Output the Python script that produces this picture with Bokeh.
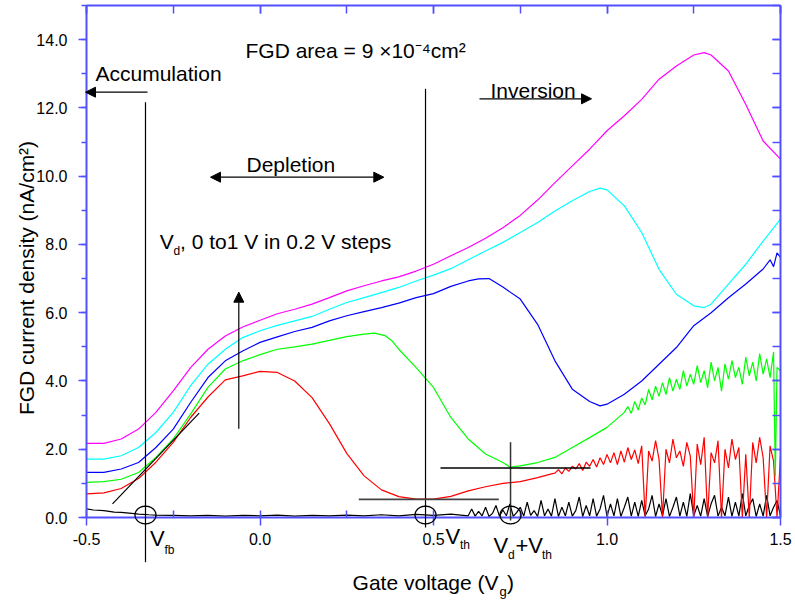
from math import pi
import numpy as np
from bokeh.plotting import figure
from bokeh.models import (LinearAxis, SingleIntervalTicker, NumeralTickFormatter, Label,
                          Arrow, NormalHead, PolyAnnotation, Range1d, CustomJSTickFormatter)
from bokeh.embed import file_html
from bokeh.resources import INLINE

# ---------------- data ----------------
vg_mag = [-0.5, -0.45, -0.4, -0.35, -0.3, -0.25, -0.2, -0.15, -0.1, -0.05, 0.0, 0.05, 0.1, 0.15, 0.2,
          0.25, 0.3, 0.35, 0.4, 0.45, 0.5, 0.55, 0.6, 0.65, 0.7, 0.75, 0.8, 0.85, 0.9, 0.95, 1.0,
          1.05, 1.1, 1.15, 1.2, 1.25, 1.28, 1.3, 1.35, 1.4, 1.45, 1.5]
j_mag = [2.17, 2.17, 2.30, 2.59, 3.08, 3.71, 4.39, 4.93, 5.32, 5.58, 5.78, 5.97, 6.10, 6.25, 6.44,
         6.64, 6.79, 6.93, 7.05, 7.22, 7.42, 7.67, 7.91, 8.18, 8.49, 8.85, 9.30, 9.81, 10.30, 10.79, 11.33,
         11.77, 12.25, 12.84, 13.23, 13.55, 13.62, 13.55, 13.08, 12.10, 11.03, 10.50]

vg_cyan = [-0.5, -0.45, -0.4, -0.35, -0.3, -0.25, -0.2, -0.15, -0.1, -0.05, 0.0, 0.05, 0.1, 0.15, 0.2,
           0.25, 0.3, 0.35, 0.4, 0.45, 0.5, 0.55, 0.6, 0.65, 0.7, 0.75, 0.8, 0.85, 0.9, 0.95, 0.98,
           1.0, 1.05, 1.1, 1.15, 1.2, 1.25, 1.28, 1.3, 1.35, 1.4, 1.45, 1.5]
j_cyan = [1.71, 1.71, 1.81, 2.05, 2.49, 3.08, 3.86, 4.49, 4.93, 5.27, 5.47, 5.63, 5.76, 5.89, 6.10,
          6.30, 6.44, 6.59, 6.74, 6.93, 7.10, 7.29, 7.55, 7.81, 8.06, 8.35, 8.64, 8.98, 9.28, 9.55, 9.65,
          9.60, 9.13, 8.35, 7.27, 6.54, 6.20, 6.15, 6.25, 6.84, 7.42, 8.10, 8.74]

vg_blue = [-0.5, -0.45, -0.4, -0.35, -0.3, -0.25, -0.2, -0.15, -0.1, -0.05, 0.0, 0.05, 0.1, 0.15, 0.2,
           0.25, 0.3, 0.35, 0.4, 0.45, 0.5, 0.55, 0.6, 0.63, 0.66, 0.7, 0.75, 0.8, 0.85, 0.9, 0.95, 0.98,
           1.0, 1.05, 1.1, 1.15, 1.2, 1.25, 1.3, 1.35, 1.4, 1.45, 1.47, 1.48, 1.49, 1.5]
j_blue = [1.32, 1.32, 1.42, 1.61, 2.05, 2.59, 3.37, 4.10, 4.59, 4.88, 5.13, 5.29, 5.45, 5.57, 5.76,
          5.91, 6.03, 6.15, 6.28, 6.44, 6.56, 6.77, 6.93, 6.99, 7.00, 6.75, 6.40, 5.66, 4.59, 3.76, 3.40, 3.27,
          3.32, 3.61, 4.00, 4.49, 4.98, 5.62, 6.00, 6.44, 6.84, 7.28, 7.55, 7.35, 7.75, 7.62]

vg_green = [-0.5, -0.45, -0.4, -0.35, -0.3, -0.25, -0.2, -0.15, -0.1, -0.05, 0.0, 0.05, 0.1, 0.15, 0.2,
            0.25, 0.3, 0.33, 0.36, 0.38, 0.4, 0.45, 0.5, 0.55, 0.6, 0.65, 0.7, 0.72, 0.75, 0.8, 0.85, 0.9,
            0.95, 1.0, 1.05,
            1.06, 1.07, 1.08, 1.09, 1.10, 1.11, 1.12, 1.13, 1.14, 1.15, 1.16, 1.17, 1.18, 1.19, 1.20,
            1.21, 1.22, 1.23, 1.24, 1.25, 1.26, 1.27, 1.28, 1.29, 1.30, 1.31, 1.32, 1.33, 1.34, 1.35,
            1.36, 1.37, 1.38, 1.39, 1.40, 1.41, 1.42, 1.43, 1.44, 1.45, 1.46, 1.47, 1.48, 1.485, 1.49, 1.50]
j_green = [1.03, 1.05, 1.12, 1.32, 1.76, 2.30, 3.03, 3.81, 4.35, 4.59, 4.77, 4.93, 5.00, 5.08, 5.19,
           5.30, 5.37, 5.40, 5.33, 5.18, 4.93, 4.39, 3.81, 2.93, 2.30, 1.86, 1.61, 1.48, 1.51, 1.61, 1.76, 2.05,
           2.34, 2.64, 3.08,
           3.25, 3.05, 3.40, 3.15, 3.50, 3.30, 3.75, 3.45, 3.85, 3.55, 3.95, 3.60, 4.10, 3.70, 4.05,
           3.75, 4.30, 3.85, 4.20, 3.90, 4.45, 3.95, 4.30, 3.80, 4.55, 4.00, 4.40, 3.70, 4.50, 4.05,
           4.60, 4.10, 4.40, 3.90, 4.70, 4.15, 4.55, 4.00, 4.80, 4.20, 4.65, 4.10, 4.85, 1.20, 4.40, 4.30]

vg_red = [-0.5, -0.45, -0.4, -0.35, -0.3, -0.25, -0.2, -0.15, -0.1, -0.05, 0.0, 0.05, 0.1, 0.15, 0.2,
          0.25, 0.3, 0.35, 0.4, 0.45, 0.5, 0.55, 0.6, 0.65, 0.7, 0.75, 0.8, 0.84,
          0.85, 0.86, 0.87, 0.88, 0.89, 0.90, 0.91, 0.92, 0.93, 0.94, 0.95, 0.96, 0.97, 0.98, 0.99,
          1.00, 1.01, 1.02, 1.03, 1.04, 1.05, 1.06, 1.07, 1.08, 1.09, 1.10, 1.11, 1.12, 1.13, 1.14,
          1.15, 1.16, 1.17, 1.18, 1.19, 1.20, 1.21, 1.22, 1.23, 1.24, 1.25, 1.26, 1.27, 1.28, 1.29,
          1.30, 1.31, 1.32, 1.33, 1.34, 1.35, 1.36, 1.37, 1.38, 1.39, 1.40, 1.41, 1.42, 1.43, 1.44,
          1.45, 1.46, 1.47, 1.48, 1.49, 1.50]
j_red = [0.69, 0.72, 0.85, 1.14, 1.62, 2.20, 2.93, 3.53, 4.03, 4.15, 4.28, 4.25, 4.00, 3.51, 2.75,
         1.88, 1.22, 0.81, 0.61, 0.54, 0.54, 0.62, 0.78, 0.90, 1.00, 1.05, 1.17, 1.28,
         1.30, 1.40, 1.28, 1.45, 1.35, 1.50, 1.42, 1.58, 1.38, 1.62, 1.50, 1.70, 1.48, 1.75, 1.55,
         1.85, 1.60, 1.90, 1.55, 1.95, 1.62, 2.05, 1.70, 1.98, 1.58, 2.10, 0.00, 1.95, 1.65, 2.25,
         1.70, 0.00, 2.00, 1.60, 2.30, 1.75, 1.95, 1.50, 2.20, 1.80, 0.00, 2.15, 1.55, 2.35, 0.00,
         1.90, 1.60, 2.25, 0.00, 2.00, 1.45, 2.30, 1.70, 2.05, 0.00, 1.85, 0.00, 2.20, 1.60, 2.35,
         1.75, 0.00, 2.10, 1.65, 0.00, 1.80]

vg_black = [-0.5, -0.48, -0.45, -0.42, -0.4, -0.37, -0.35, -0.32, -0.3, -0.25, -0.2, -0.15, -0.1, -0.05,
            0.0, 0.05, 0.1, 0.15, 0.2, 0.25, 0.3, 0.35, 0.4, 0.45, 0.5, 0.55, 0.6,
            0.61, 0.62, 0.63, 0.64, 0.65, 0.66, 0.67, 0.68, 0.69, 0.70, 0.71, 0.72, 0.73, 0.74, 0.75,
            0.76, 0.77, 0.78, 0.79, 0.80, 0.81, 0.82, 0.83, 0.84, 0.85, 0.86, 0.87, 0.88, 0.89, 0.90,
            0.91, 0.92, 0.93, 0.94, 0.95, 0.96, 0.97, 0.98, 0.99, 1.00, 1.01, 1.02, 1.03, 1.04, 1.05,
            1.06, 1.07, 1.08, 1.09, 1.10, 1.11, 1.12, 1.13, 1.14, 1.15, 1.16, 1.17, 1.18, 1.19, 1.20,
            1.21, 1.22, 1.23, 1.24, 1.25, 1.26, 1.27, 1.28, 1.29, 1.30, 1.31, 1.32, 1.33, 1.34, 1.35,
            1.36, 1.37, 1.38, 1.39, 1.40, 1.41, 1.42, 1.43, 1.44, 1.45, 1.46, 1.47, 1.48, 1.49, 1.50]
j_black = [0.25, 0.22, 0.20, 0.16, 0.15, 0.12, 0.10, 0.08, 0.07, 0.06, 0.05, 0.06, 0.04, 0.06,
           0.05, 0.07, 0.04, 0.06, 0.05, 0.07, 0.05, 0.08, 0.05, 0.09, 0.06, 0.10, 0.05,
           0.25, 0.04, 0.18, 0.05, 0.30, 0.03, 0.12, 0.35, 0.04, 0.22, 0.05, 0.40, 0.03, 0.15, 0.30,
           0.04, 0.45, 0.06, 0.20, 0.03, 0.50, 0.05, 0.25, 0.04, 0.55, 0.03, 0.30, 0.05, 0.45, 0.04,
           0.20, 0.60, 0.03, 0.35, 0.05, 0.55, 0.04, 0.25, 0.65, 0.03, 0.40, 0.05, 0.55, 0.03, 0.30,
           0.60, 0.04, 0.45, 0.03, 0.50, 0.05, 0.25, 0.65, 0.03, 0.40, 0.05, 0.55, 0.03, 0.30, 0.60,
           0.04, 0.45, 0.03, 0.70, 0.05, 0.35, 0.04, 0.55, 0.03, 0.40, 0.65, 0.04, 0.30, 0.05, 0.60,
           0.03, 0.45, 0.04, 0.70, 0.05, 0.35, 0.55, 0.03, 0.40, 0.04, 0.65, 0.05, 0.30, 0.50, 0.04]

# characteristic voltages / levels marked on the chart
v_fb = -0.33
v_th_half = 0.477
vd_plus_vth = 0.722
red_min_level = 0.53
green_min_level = 1.45

# ---------------- layout helpers ----------------
W, H = 795, 603
L, R, T, B = 86, 780, 5, 517          # where the data box sits on the page
X0, X1, Y0, Y1 = -0.5, 1.5, 0.0, 15.0


def dx(px):
    return X0 + (px - L) * (X1 - X0) / (R - L)


def dy(py):
    return Y1 - (py - T) * (Y1 - Y0) / (B - T)


FONT = "Liberation Sans"
AXC = "#5050ff"

# the frame covers the whole page so that texts below / left of the axes are not clipped
p = figure(width=W, height=H, x_range=Range1d(dx(0), dx(W)), y_range=Range1d(dy(H), dy(0)),
           output_backend="svg", toolbar_location=None,
           x_axis_type=None, y_axis_type=None,
           min_border_left=0, min_border_right=0, min_border_top=0, min_border_bottom=0)
p.outline_line_color = None
p.xgrid.visible = False
p.ygrid.visible = False
p.background_fill_color = "white"
p.border_fill_color = "white"

# axes (fixed at the data box edges)
xb = LinearAxis(ticker=SingleIntervalTicker(interval=0.5, num_minor_ticks=2),
                formatter=NumeralTickFormatter(format="0.0"), fixed_location=Y0, bounds=(X0, X1))
yl = LinearAxis(ticker=SingleIntervalTicker(interval=2, num_minor_ticks=2),
                formatter=NumeralTickFormatter(format="0.0"), fixed_location=X0, bounds=(Y0, Y1))
blank = CustomJSTickFormatter(code="return ''")
xt = LinearAxis(ticker=SingleIntervalTicker(interval=0.5, num_minor_ticks=2), formatter=blank,
                fixed_location=Y1, bounds=(X0, X1))
yr = LinearAxis(ticker=SingleIntervalTicker(interval=2, num_minor_ticks=2), formatter=blank,
                fixed_location=X1, bounds=(Y0, Y1))
for ax in (xb, yl, xt, yr):
    ax.axis_line_color = AXC
    ax.axis_line_width = 2
    ax.major_tick_line_color = AXC
    ax.minor_tick_line_color = AXC
    ax.major_tick_line_width = 1.5
    ax.minor_tick_line_width = 1.5
    ax.major_label_text_font = FONT
    ax.major_label_text_font_size = "16px"
    ax.major_label_text_color = "black"
xb.major_tick_out, xb.major_tick_in = 8, 0
xb.minor_tick_out, xb.minor_tick_in = 0, 7
xb.major_label_standoff = 7
yl.major_tick_out, yl.major_tick_in = 8, 0
yl.minor_tick_out, yl.minor_tick_in = 5, 0
yl.major_label_standoff = 11
for ax in (xt, yr):
    ax.major_tick_out, ax.major_tick_in = 0, 8
    ax.minor_tick_out, ax.minor_tick_in = 0, 8
    ax.major_label_standoff = 0
p.add_layout(xb, "below")
p.add_layout(yl, "left")
p.add_layout(xt, "above")
p.add_layout(yr, "right")

# curves
series = [(vg_black, j_black, "black"), (vg_red, j_red, "#ff0000"), (vg_green, j_green, "#00ff00"),
          (vg_blue, j_blue, "#0000ff"), (vg_cyan, j_cyan, "#00ffff"), (vg_mag, j_mag, "#ff00ff")]
for xs, ys, c in series:
    p.line(xs, ys, line_color=c, line_width=1.2)


def seg(x0, y0, x1, y1, color="black", width=1.2):
    p.add_layout(Arrow(end=None, x_start=x0, y_start=y0, x_end=x1, y_end=y1,
                       line_color=color, line_width=width))


def arrow(x0, y0, x1, y1, both=False):
    head = dict(size=10, fill_color="black", line_color="black")
    p.add_layout(Arrow(end=NormalHead(**head), start=NormalHead(**head) if both else None,
                       x_start=x0, y_start=y0, x_end=x1, y_end=y1,
                       line_color="black", line_width=1.2))


# marker lines
seg(v_fb, dy(101.7), v_fb, dy(561.7))
seg(v_th_half, dy(88.3), v_th_half, dy(527))
seg(vd_plus_vth, dy(441.7), vd_plus_vth, dy(520), color="#333333", width=1.5)
seg(dx(112), dy(503.3), dx(198.7), dy(412.7))
seg(dx(358.3), red_min_level, dx(498.3), red_min_level, color="#444444", width=1.8)
seg(dx(440), green_min_level, dx(590), green_min_level, color="black", width=1.5)

# arrows
arrow(dx(147), dy(91.7), dx(85), dy(91.7))
arrow(dx(210), dy(176.7), dx(383.3), dy(176.7), both=True)
arrow(dx(479), dy(98.3), dx(591), dy(98.3))
arrow(dx(238.3), dy(428.3), dx(238.3), dy(291.7))

# circles around characteristic points
t = np.linspace(0, 2 * pi, 73)
rx = 10.5 * (X1 - X0) / (R - L)
ry = 8.8 * (Y1 - Y0) / (B - T)
for cx in (v_fb, v_th_half, vd_plus_vth):
    cy = dy(514.5)
    p.add_layout(PolyAnnotation(xs=list(cx + rx * np.cos(t)), ys=list(cy + ry * np.sin(t)),
                                fill_color=None, fill_alpha=0, line_color="black",
                                line_alpha=1.0, line_width=1.3))


def lab(text, px, py, size=21, align="left", angle=0.0):
    # py is the alphabetic baseline measured on the reference; shift for Bokeh's text box
    corr = 0.34 * size
    if angle == 0.0:
        x, y = px, py - corr
    else:
        x, y = px - corr, py
    p.add_layout(Label(x=dx(x), y=dy(y), text=text, text_font=FONT, text_font_size=f"{size}px",
                       text_color="black", text_align=align, text_baseline="alphabetic", angle=angle))


lab("FGD area = 9 \u00d710\u207b\u2074cm\u00b2", 245, 57.3)
lab("Accumulation", 95, 80)
lab("Depletion", 246, 170.7)
lab("Inversion", 490, 96.7)
lab("V", 159.3, 248.3)
lab("d", 173, 255, size=12)
lab(", 0 to1 V in 0.2 V steps", 179.5, 248.3)
# bottom annotations
lab("V", 149.5, 545.3, size=22)
lab("fb", 164, 553.7, size=12)
lab("V", 445, 543.7, size=22)
lab("th", 459.5, 548.7, size=12)
lab("V", 493, 552, size=22)
lab("d", 507.5, 558.7, size=12)
lab("+V", 515, 552, size=22)
lab("th", 541.5, 558.7, size=12)
# axis titles
lab("Gate voltage (V", 498, 589, size=21, align="right")
lab("g", 499, 595, size=13)
lab(")", 506.5, 589, size=21)
lab("FGD current density (nA/cm\u00b2)", 33, 277.5, size=21, align="center", angle=pi / 2)

open("out.html", "w").write(file_html(p, INLINE))
